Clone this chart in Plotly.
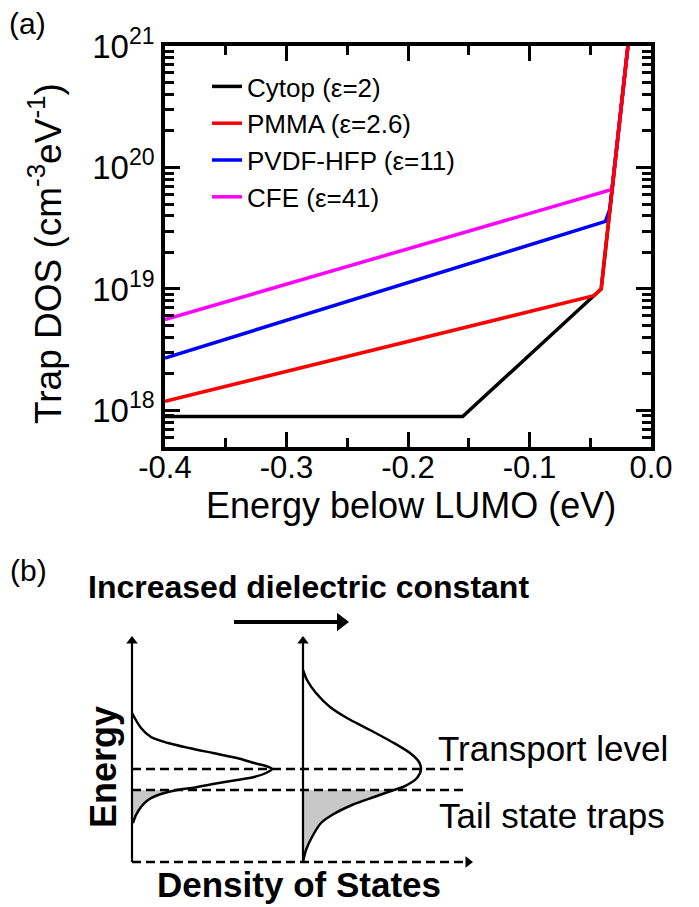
import plotly.graph_objects as go

# ---------------- Panel (a) data ----------------
series_names = ["Cytop (ε=2)", "PMMA (ε=2.6)", "PVDF-HFP (ε=11)", "CFE (ε=41)"]
energy_cytop = [-0.40, -0.155, -0.041, -0.019]
dos_cytop = [8.9e17, 8.9e17, 1.0e19, 1.0e21]
energy_pmma = [-0.40, -0.047, -0.041, -0.019]
dos_pmma = [1.19e18, 8.8e18, 1.0e19, 1.0e21]
energy_pvdf = [-0.40, -0.0375, -0.034, -0.019]
dos_pvdf = [2.7e18, 3.6e19, 4.5e19, 1.0e21]
energy_cfe = [-0.40, -0.032, -0.019]
dos_cfe = [5.6e18, 6.6e19, 1.0e21]

x_tickvals = [-0.4, -0.3, -0.2, -0.1, 0.0]
x_ticktext = ["-0.4", "-0.3", "-0.2", "-0.1", "0.0"]
y_tickvals = [1e18, 1e19, 1e20, 1e21]
y_ticktext = ["10<sup>18</sup>", "10<sup>19</sup>", "10<sup>20</sup>", "10<sup>21</sup>"]
y_minor_vals = [m * 10.0 ** e for e in range(17, 21) for m in range(2, 10)]

# ---------------- Panel (b) schematic ----------------
left_curve_x = [132, 141, 151, 168, 189, 213, 237, 254, 266, 272, 266, 254, 237, 213, 192, 177, 158, 148, 141, 136, 133]
left_curve_y = [713, 728, 737, 743, 748, 753, 758, 763, 766, 769, 773, 777, 780, 784, 788, 790, 795, 800, 807, 815, 823]
right_curve_x = [303, 307, 316, 330, 347, 370, 392, 410, 419, 421, 417, 403, 394, 374, 352, 332, 321, 312, 306, 303]
right_curve_y = [670, 680, 693, 707, 718, 730, 742, 753, 762, 769, 778, 787, 790, 797, 805, 815, 823, 837, 850, 862]
axis_x = [132, 303]
transport_level_y = 769
tail_level_y = 790
baseline_y = 862
axis_top_y = 636
line_end_x = 472
big_arrow_x = [234, 348]
big_arrow_y = 622

fig = go.Figure()

FONT = "Liberation Sans, Arial, sans-serif"

# panel (a) traces: black, blue, magenta first, red on top
fig.add_trace(go.Scatter(x=energy_cytop, y=dos_cytop, mode="lines", name=series_names[0],
                         line=dict(color="black", width=3.5), legendrank=1))
fig.add_trace(go.Scatter(x=energy_pvdf, y=dos_pvdf, mode="lines", name=series_names[2],
                         line=dict(color="#0000ff", width=3.5), legendrank=3))
fig.add_trace(go.Scatter(x=energy_cfe, y=dos_cfe, mode="lines", name=series_names[3],
                         line=dict(color="#ff00ff", width=3.5), legendrank=4))
fig.add_trace(go.Scatter(x=energy_pmma, y=dos_pmma, mode="lines", name=series_names[1],
                         line=dict(color="#ff0000", width=3.5), legendrank=2))

def seg(x, y, width=2.5, dash="solid"):
    fig.add_trace(go.Scatter(x=x, y=y, xaxis="x2", yaxis="y2", mode="lines",
                             line=dict(color="black", width=width, dash=dash),
                             showlegend=False, hoverinfo="skip"))

def head(x, y, symbol, size):
    fig.add_trace(go.Scatter(x=[x], y=[y], xaxis="x2", yaxis="y2", mode="markers",
                             marker=dict(symbol=symbol, size=size, color="black", line=dict(width=0)),
                             showlegend=False, hoverinfo="skip"))

# panel (b) shaded tails
def tail(xs, ys, ax):
    px = [ax]
    py = [tail_level_y]
    for x, y in zip(xs, ys):
        if y >= tail_level_y:
            px.append(x)
            py.append(y)
    px.append(ax)
    py.append(py[-1])
    return px, py

for cx, cy, ax in [(left_curve_x, left_curve_y, axis_x[0]), (right_curve_x, right_curve_y, axis_x[1])]:
    tx, ty = tail(cx, cy, ax)
    fig.add_trace(go.Scatter(x=tx, y=ty, xaxis="x2", yaxis="y2", mode="lines", fill="toself",
                             fillcolor="#c8c8c8", line=dict(width=0, color="#c8c8c8"),
                             showlegend=False, hoverinfo="skip"))
    fig.add_trace(go.Scatter(x=cx, y=cy, xaxis="x2", yaxis="y2", mode="lines",
                             line=dict(color="black", width=2.5, shape="spline", smoothing=0.8),
                             showlegend=False, hoverinfo="skip"))

# energy axes (solid, with arrow heads)
for ax in axis_x:
    seg([ax, ax], [baseline_y, axis_top_y + 6], width=2.2)
    head(ax, axis_top_y + 5, "triangle-up", 10)

# dashed levels and baseline
for yy in [transport_level_y, tail_level_y, baseline_y]:
    seg([axis_x[0], line_end_x - 6], [yy, yy], width=2.5, dash="9px,5px")
head(line_end_x - 4, baseline_y, "triangle-right", 10)

# "increased dielectric constant" arrow
seg([big_arrow_x[0], big_arrow_x[1] - 10], [big_arrow_y, big_arrow_y], width=4)
head(big_arrow_x[1] - 7, big_arrow_y, "triangle-right", 16)

def txt(t, x, y, size, bold=False, angle=0):
    return dict(text=("<b>%s</b>" % t) if bold else t, x=x, y=y, xref="x2", yref="y2", showarrow=False,
                font=dict(family=FONT, size=size, color="black"), textangle=angle,
                xanchor="center", yanchor="middle")

annotations = [
    txt("(a)", 27, 23, 30),
    txt("(b)", 28, 570, 30),
    txt("Increased dielectric constant", 308, 587, 32, bold=True),
    txt("Energy", 103, 767, 36, bold=True, angle=-90),
    txt("Density of States", 299, 884, 35, bold=True),
    txt("Transport level", 553, 748, 35),
    txt("Tail state traps", 552, 815, 35),
    # axis titles of panel (a)
    dict(text="Trap DOS (cm<sup>-3</sup>eV<sup>-1</sup>)", x=45, y=254, xref="x2", yref="y2",
         showarrow=False, textangle=-90, font=dict(family=FONT, size=37, color="black"),
         xanchor="center", yanchor="middle"),
    txt("Energy below LUMO (eV)", 411, 505, 36),
]

W, H = 699, 907
L, R, T, B = 165, 651, 46, 447

fig.update_layout(
    template="none",
    width=W, height=H, margin=dict(l=0, r=0, t=0, b=0, pad=0), autosize=False,
    paper_bgcolor="white", plot_bgcolor="rgba(0,0,0,0)",
    font=dict(family=FONT, color="black"),
    showlegend=True,
    legend=dict(x=207 / W, y=1 - 63 / H, xanchor="left", yanchor="top",
                bgcolor="rgba(0,0,0,0)", font=dict(family=FONT, size=26, color="black"),
                itemwidth=30, tracegroupgap=0),
    xaxis=dict(domain=[L / W, R / W], range=[-0.4, 0.0], anchor="y", automargin=False,
               tickvals=x_tickvals, ticktext=x_ticktext, ticks="inside", ticklen=15, tickwidth=3,
               tickcolor="black", showline=True, linewidth=3.5, linecolor="black", mirror="ticks",
               showgrid=False, zeroline=False, tickfont=dict(family=FONT, size=31, color="black"),
               ticklabelstandoff=-10,
               minor=dict(dtick=0.05, tick0=0, ticks="inside", ticklen=9, tickwidth=3, tickcolor="black", showgrid=False)),
    yaxis=dict(domain=[1 - B / H, 1 - T / H], type="log", range=[17.699, 21.0], anchor="x", automargin=False,
               tickvals=y_tickvals, ticktext=y_ticktext, ticks="inside", ticklen=15, tickwidth=3,
               tickcolor="black", showline=True, linewidth=3.5, linecolor="black", mirror="ticks",
               showgrid=False, zeroline=False, tickfont=dict(family=FONT, size=33, color="black"),
               minor=dict(tickvals=y_minor_vals, ticks="inside", ticklen=9, tickwidth=3, tickcolor="black", showgrid=False)),
    xaxis2=dict(domain=[0, 1], range=[0, W], anchor="y2", visible=False, fixedrange=True, automargin=False),
    yaxis2=dict(domain=[0, 1], range=[H, 0], anchor="x2", visible=False, fixedrange=True, automargin=False),
    annotations=annotations,
)

fig.write_html("out.html", config={"displayModeBar": False},
               post_script="document.body.style.margin='0px';document.body.style.padding='0px';")
